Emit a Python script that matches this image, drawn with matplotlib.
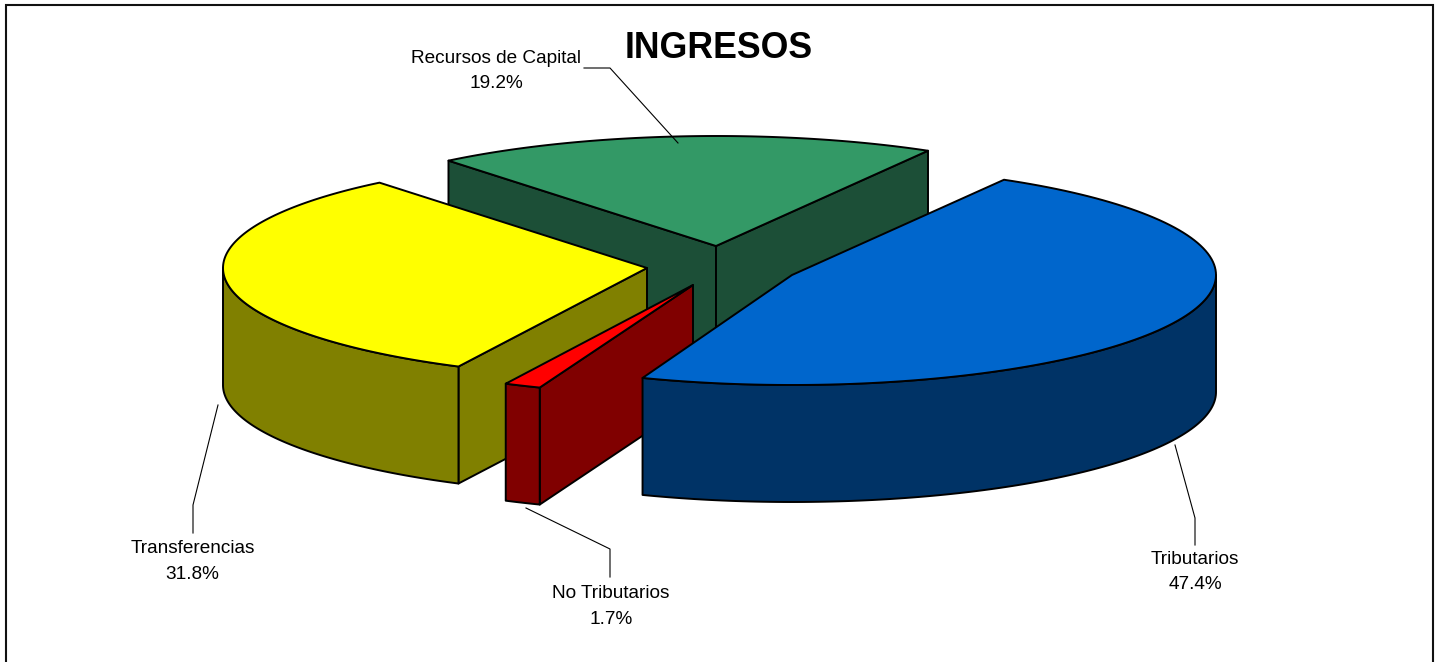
import numpy as np
import matplotlib
matplotlib.use("Agg")
import matplotlib.pyplot as plt
from matplotlib.patches import Polygon

plt.rcParams["font.family"] = ["Liberation Sans", "DejaVu Sans"]

# Data
labels = ["Tributarios", "Recursos de Capital", "Transferencias", "No Tributarios"]
shares = [47.4, 19.2, 31.8, 1.7]
top_colors = ["#0066CC", "#339966", "#FFFF00", "#FF0000"]
side_colors = ["#003366", "#1C4F37", "#808000", "#800000"]

# slice centres after the explode, in pixels
centres = [(792, 275), (716, 246), (647, 268), (693, 285)]
RX, RY, DEPTH = 424, 110, 117
START = -60  # degrees, screen y points down

W, H = 1438, 662
fig = plt.figure(figsize=(W / 100, H / 100), dpi=100)
ax = fig.add_axes([0, 0, 1, 1])
ax.set_xlim(0, W)
ax.set_ylim(H, 0)
ax.axis("off")

# frame, the bottom edge is cut off in the original
ax.plot([5.5, 5.5, 1432.5, 1432.5], [H, 5, 5, H], color="#111111", lw=1.5, solid_joinstyle="miter")


def rim(c, a0, a1):
    t = np.radians(np.linspace(a0, a1, 120))
    return c[0] + RX * np.cos(t), c[1] + RY * np.sin(t)


def face(xs, ys, color):
    ax.add_patch(Polygon(np.column_stack([xs, ys]), closed=True, fc=color, ec="black", lw=1.4, joinstyle="round"))


def draw_slice(i, a0, a1, walls):
    c = centres[i]
    x, y = rim(c, a0, a1)
    # inner walls that face the viewer
    for k in walls:
        face([c[0], x[k], x[k], c[0]], [c[1], y[k], y[k] + DEPTH, c[1] + DEPTH], side_colors[i])
    # outer wall, front half of the ellipse only
    lo, hi = max(a0, 0), min(a1, 180)
    if hi > lo:
        wx, wy = rim(c, lo, hi)
        face(np.r_[wx, wx[::-1]], np.r_[wy, wy[::-1] + DEPTH], side_colors[i])
    face(np.r_[c[0], x], np.r_[c[1], y], top_colors[i])


sweeps = [s / 100 * 360 for s in shares]
blue = (START, START + sweeps[0])
green = (START - sweeps[1], START)
yellow = (green[0] + 360 - sweeps[2], green[0] + 360)
# the small slice comes out a bit narrower in the original
red_mid = blue[1] + sweeps[3] / 2
red = (red_mid - sweeps[3] * 0.41, red_mid + sweeps[3] * 0.41)

draw_slice(1, *green, [0, -1])
draw_slice(2, *yellow, [0])
draw_slice(3, *red, [0])
draw_slice(0, *blue, [])

# leader lines
leaders = [
    ([1175, 1195, 1195], [445, 518, 545]),
    ([584, 610, 678], [68, 68, 143]),
    ([218, 193, 193], [405, 505, 533]),
    ([526, 610, 610], [508, 549, 577]),
]
for lx, ly in leaders:
    ax.plot(lx, ly, color="black", lw=0.8)

# labels
text_pos = [(1195, 572), (496, 71), (192.5, 561.5), (611, 606.5)]
for name, share, (tx, ty) in zip(labels, shares, text_pos):
    ax.text(tx, ty, f"{name}\n{share:.1f}%", ha="center", va="center", fontsize=13.7, linespacing=1.65)

ax.text(718.5, 48, "INGRESOS", ha="center", va="center", fontsize=25.7, fontweight="bold")

fig.savefig("out.png", dpi=100, facecolor="white")
